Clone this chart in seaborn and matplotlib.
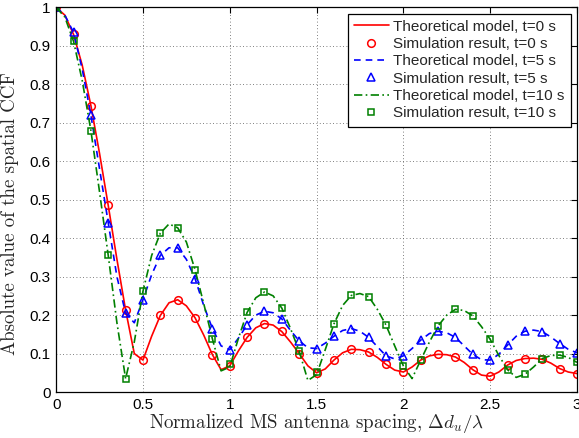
import numpy as np
import pandas as pd
import matplotlib
matplotlib.use("Agg")
import matplotlib.pyplot as plt
import seaborn as sns

# theoretical curves, sampled every 0.05
x_theory = [round(0.05 * i, 2) for i in range(61)]
theory_t0 = [1.0, 0.98, 0.93, 0.85, 0.745, 0.62, 0.485, 0.345, 0.213, 0.1, 0.083, 0.145,
             0.199, 0.232, 0.24, 0.224, 0.193, 0.148, 0.097, 0.058, 0.068, 0.107, 0.142, 0.167,
             0.178, 0.174, 0.157, 0.13, 0.1, 0.068, 0.05, 0.06, 0.083, 0.102, 0.111, 0.11,
             0.104, 0.09, 0.072, 0.057, 0.052, 0.065, 0.083, 0.094, 0.098, 0.097, 0.091, 0.077,
             0.058, 0.044, 0.041, 0.052, 0.07, 0.082, 0.087, 0.088, 0.085, 0.075, 0.061, 0.052, 0.048]
theory_t5 = [1.0, 0.98, 0.935, 0.84, 0.72, 0.58, 0.44, 0.3, 0.205, 0.18, 0.24, 0.305,
             0.355, 0.375, 0.375, 0.345, 0.295, 0.225, 0.165, 0.12, 0.11, 0.14, 0.175, 0.2,
             0.21, 0.206, 0.19, 0.16, 0.133, 0.115, 0.113, 0.127, 0.145, 0.16, 0.165, 0.158,
             0.142, 0.118, 0.094, 0.086, 0.094, 0.113, 0.135, 0.152, 0.158, 0.154, 0.142, 0.12,
             0.098, 0.084, 0.083, 0.098, 0.122, 0.145, 0.158, 0.161, 0.157, 0.143, 0.126, 0.111, 0.102]
theory_t10 = [1.0, 0.975, 0.912, 0.81, 0.68, 0.52, 0.355, 0.18, 0.035, 0.13, 0.262, 0.355,
              0.413, 0.437, 0.427, 0.39, 0.318, 0.23, 0.138, 0.055, 0.065, 0.14, 0.207, 0.245,
              0.26, 0.25, 0.218, 0.165, 0.106, 0.03, 0.045, 0.11, 0.177, 0.225, 0.251, 0.256,
              0.248, 0.215, 0.174, 0.12, 0.068, 0.035, 0.083, 0.13, 0.172, 0.2, 0.215, 0.212,
              0.198, 0.17, 0.137, 0.095, 0.058, 0.038, 0.046, 0.065, 0.087, 0.095, 0.096, 0.09, 0.077]

# simulation points, every 0.1
x_sim = [round(0.1 * i, 1) for i in range(31)]
sim_t0 = [1.0, 0.93, 0.745, 0.485, 0.213, 0.083, 0.199, 0.24, 0.193, 0.097, 0.068, 0.142,
          0.178, 0.158, 0.1, 0.05, 0.083, 0.111, 0.104, 0.072, 0.052, 0.083, 0.098, 0.091,
          0.058, 0.041, 0.07, 0.087, 0.085, 0.061, 0.048]
sim_t5 = [1.0, 0.935, 0.72, 0.44, 0.205, 0.24, 0.355, 0.375, 0.295, 0.165, 0.11, 0.175,
          0.21, 0.19, 0.133, 0.113, 0.145, 0.165, 0.142, 0.094, 0.094, 0.135, 0.158, 0.142,
          0.098, 0.083, 0.122, 0.158, 0.157, 0.126, 0.102]
sim_t10 = [1.0, 0.912, 0.68, 0.355, 0.035, 0.262, 0.413, 0.427, 0.318, 0.138, 0.072, 0.207,
           0.26, 0.219, 0.106, 0.051, 0.177, 0.251, 0.248, 0.174, 0.068, 0.083, 0.172, 0.215,
           0.198, 0.137, 0.058, 0.046, 0.087, 0.096, 0.077]

sns.set_style("white")
plt.rcParams['font.family'] = ['Liberation Sans', 'DejaVu Sans']
plt.rcParams['mathtext.fontset'] = 'cm'

fig, ax = plt.subplots(figsize=(5.79, 4.38), dpi=100)
fig.subplots_adjust(left=0.097, right=0.9965, top=0.983, bottom=0.105)

red, blue, green = (1, 0, 0), (0, 0, 1), (0, 0.5, 0)
series = [
    ("0", theory_t0, sim_t0, red, "-", "o", 5.5),
    ("5", theory_t5, sim_t5, blue, (0, (4, 3)), "^", 6.0),
    ("10", theory_t10, sim_t10, green, (0, (5, 2, 1, 2)), "s", 4.5),
]
for t, th, sim, c, ls, mk, ms in series:
    sns.lineplot(x=x_theory, y=th, ax=ax, color=c, linestyle=ls, linewidth=1.2,
                 label="Theoretical model, t=%s s" % t)
    sns.lineplot(x=x_sim, y=sim, ax=ax, color=c, linestyle="", marker=mk, markersize=ms,
                 markerfacecolor="none", markeredgecolor=c, markeredgewidth=1.1,
                 label="Simulation result, t=%s s" % t)

ax.set_xlim(0, 3)
ax.set_ylim(0, 1)
ax.set_xticks([0, 0.5, 1, 1.5, 2, 2.5, 3])
ax.set_xticklabels(["0", "0.5", "1", "1.5", "2", "2.5", "3"])
ax.set_yticks(np.arange(0, 1.01, 0.1))
ax.set_yticklabels(["0", "0.1", "0.2", "0.3", "0.4", "0.5", "0.6", "0.7", "0.8", "0.9", "1"])
ax.tick_params(direction="in", length=4, width=0.8, top=True, right=True,
               labelsize=11, pad=4, colors="black")
ax.grid(True, linestyle=(0, (1, 3)), color="#555555", linewidth=0.6)
for sp in ax.spines.values():
    sp.set_color("black")
    sp.set_linewidth(0.9)

ax.set_xlabel(r"Normalized MS antenna spacing, $\Delta d_u/\lambda$",
              family="cmr10", fontsize=13.6, labelpad=0)
ax.set_ylabel("Absolute value of the spatial CCF", family="cmr10", fontsize=13.6)
ax.yaxis.set_label_coords(-0.072, 0.465)

leg = ax.legend(loc="upper right", fontsize=11, frameon=True, fancybox=False,
                edgecolor="black", framealpha=1, handlelength=2.3, handletextpad=0.3,
                labelspacing=0.22, borderpad=0.4, borderaxespad=0.4)
leg.get_frame().set_linewidth(0.9)

fig.savefig("out.png", dpi=100)
